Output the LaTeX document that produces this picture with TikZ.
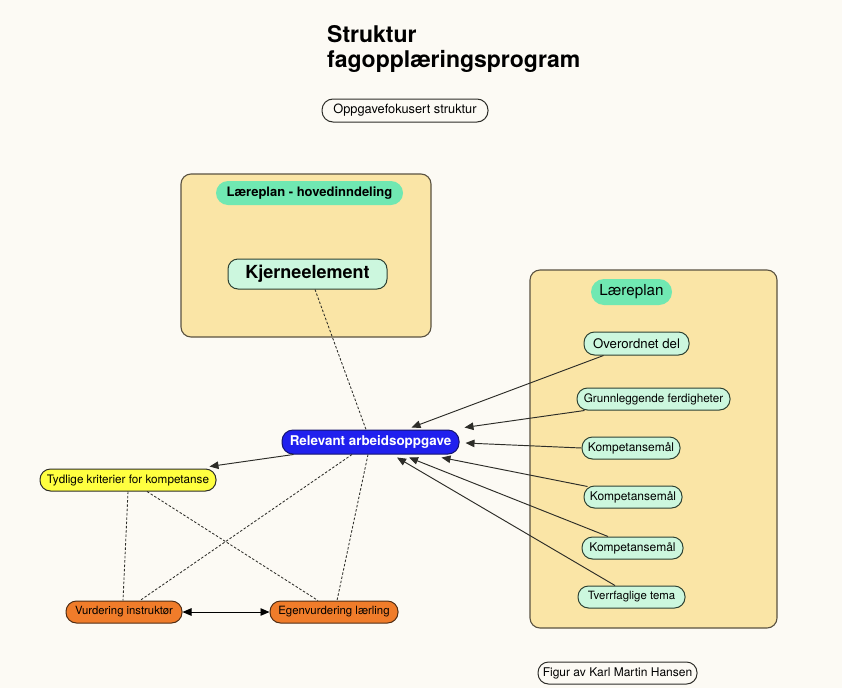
\documentclass[tikz,border=0pt]{standalone}
\usepackage{fontspec}
\setmainfont{TeX Gyre Heros}
\usetikzlibrary{arrows.meta}

\definecolor{paper}{RGB}{252,250,244}
\definecolor{panel}{RGB}{250,229,166}
\definecolor{panelrim}{RGB}{90,82,65}
\definecolor{mint}{RGB}{112,232,178}
\definecolor{palemint}{RGB}{204,247,222}
\definecolor{relblue}{RGB}{32,32,238}
\definecolor{kritgul}{RGB}{255,255,64}
\definecolor{vurdoransje}{RGB}{240,124,42}
\definecolor{edge}{RGB}{45,45,40}

\newcommand{\fsz}[1]{\fontsize{#1}{#1}\selectfont}

\tikzset{
  panelbox/.style={draw=panelrim, fill=panel, line width=1.1pt, rounded corners=10pt, inner sep=0pt},
  head/.style={fill=mint, rounded corners=12pt, inner sep=0pt},
  pill/.style={draw=edge, line width=1pt, rounded corners=10.5pt, inner sep=0pt, text=black},
  item/.style={pill, fill=palemint, draw={rgb,255:red,45;green,65;blue,50}},
  link/.style={draw=edge, line width=0.95pt, -{Triangle[length=9pt,width=7.5pt]}},
  twolink/.style={draw=black, line width=0.95pt, {Triangle[length=9pt,width=7.5pt]}-{Triangle[length=9pt,width=7.5pt]}},
  dotlink/.style={draw=edge, line width=0.85pt, dash pattern=on 2.5pt off 1.8pt},
}

\begin{document}
\begin{tikzpicture}[x=1pt,y=-1pt]
  % canvas
  \fill[paper] (0,0) rectangle (842,688);
  \useasboundingbox (0,0) rectangle (842,688);

  % title
  \node[anchor=base west, inner sep=0pt] (t1) at (327,42) {\fsz{23}\bfseries Struktur};
  \node[anchor=base west, inner sep=0pt] (t2) at (327,67) {\fsz{23}\bfseries fagopplæringsprogram};

  \node[pill, fill=paper, minimum width=166pt, minimum height=23pt, rounded corners=11pt] (oppg) at (405,110.5)
    {\fsz{12.8}Oppgavefokusert struktur};

  % left panel: main division of the curriculum
  \node[panelbox, minimum width=250pt, minimum height=163pt] (box1) at (306,255.5) {};
  \node[head, minimum width=187pt, minimum height=24pt] (hoved) at (309.5,193)
    {\fsz{13}\bfseries Læreplan - hovedinndeling};
  \node[item, rounded corners=10pt, minimum width=159pt, minimum height=30pt] (kj) at (307.5,274)
    {\fsz{18}\bfseries Kjerneelement};

  % right panel: curriculum parts
  \node[panelbox, minimum width=247pt, minimum height=358pt] (box2) at (653.5,449) {};
  \node[head, rounded corners=13pt, minimum width=81pt, minimum height=26pt] (lp) at (631.5,292)
    {\fsz{15.2}Læreplan};
  \node[item, minimum width=105pt, minimum height=23pt] (ov) at (636.5,343.5) {\fsz{13.2}Overordnet del};
  \node[item, minimum width=153pt, minimum height=22pt] (gr) at (653.5,399) {\fsz{11.7}Grunnleggende ferdigheter};
  \node[item, minimum width=98pt, minimum height=22pt] (k1) at (631,448) {\fsz{12}Kompetansemål};
  \node[item, minimum width=98pt, minimum height=22pt] (k2) at (633,497) {\fsz{12}Kompetansemål};
  \node[item, minimum width=101pt, minimum height=22pt] (k3) at (632.5,548) {\fsz{12}Kompetansemål};
  \node[item, minimum width=107pt, minimum height=22pt] (tv) at (631.5,597) {\fsz{11.4}Tverrfaglige tema};

  % central task and assessment
  \node[pill, fill=relblue, draw={rgb,255:red,20;green,20;blue,110}, rounded corners=11pt,
        minimum width=177pt, minimum height=24pt, text=white] (rel) at (370.5,442)
    {\fsz{13.4}\bfseries Relevant arbeidsoppgave};
  \node[pill, fill=kritgul, minimum width=176pt, minimum height=22pt] (tyd) at (128,480)
    {\fsz{11.7}Tydlige kriterier for kompetanse};
  \node[pill, fill=vurdoransje, draw={rgb,255:red,80;green,45;blue,20}, minimum width=116pt, minimum height=22pt] (vur) at (124,612)
    {\fsz{11.3}Vurdering instruktør};
  \node[pill, fill=vurdoransje, draw={rgb,255:red,80;green,45;blue,20}, minimum width=128pt, minimum height=22pt] (egen) at (334,612)
    {\fsz{11.4}Egenvurdering lærling};

  \node[pill, fill=paper, minimum width=159pt, minimum height=22pt] (fig) at (617.5,673)
    {\fsz{12}Figur av Karl Martin Hansen};

  % dashed relations
  \draw[dotlink] ([xshift=7.5pt]kj.south) -- ([xshift=-4.5pt]rel.north);
  \draw[dotlink] (tyd.south) -- ([xshift=-1pt]vur.north);
  \draw[dotlink] ([xshift=19pt]tyd.south) -- ([xshift=-16pt]egen.north);
  \draw[dotlink] ([xshift=-18.5pt]rel.south) -- ([xshift=16pt]vur.north);
  \draw[dotlink] ([xshift=-2.5pt]rel.south) -- ([xshift=3pt]egen.north);

  % curriculum parts feeding the task
  \draw[link] ([xshift=-33pt]ov.south) -- ([xshift=41pt,yshift=2pt]rel.north);
  \draw[link] ([xshift=8pt]gr.south west) -- ([xshift=5pt,yshift=2pt]rel.north east);
  \draw[link] (k1.west) -- ([xshift=6pt,yshift=-1pt]rel.east);
  \draw[link] ([xshift=4pt,yshift=-1pt]k2.north west) -- ([xshift=71pt,yshift=-3pt]rel.south);
  \draw[link] ([xshift=-24.5pt]k3.north) -- ([xshift=38.5pt,yshift=-3pt]rel.south);
  \draw[link] ([xshift=-16.5pt]tv.north) -- ([xshift=26.5pt,yshift=-3pt]rel.south);

  % task to criteria, and the two assessments
  \draw[link] ([xshift=12pt]rel.south west) -- ([xshift=-7pt,yshift=2pt]tyd.north east);
  \draw[twolink] (vur.east) -- (egen.west);
\end{tikzpicture}
\end{document}
